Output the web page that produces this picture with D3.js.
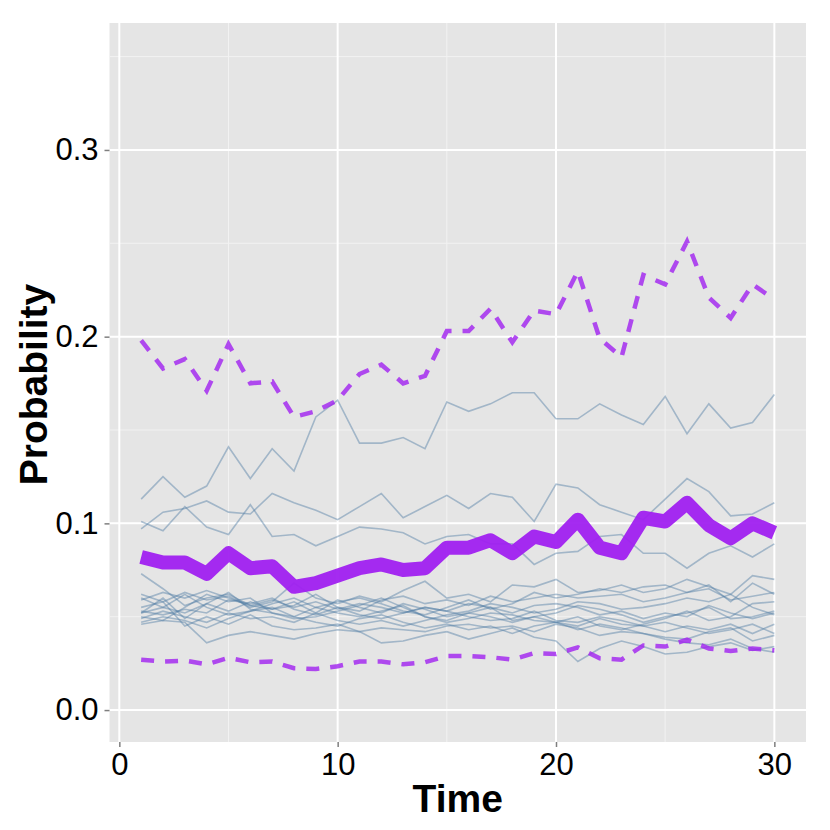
<!DOCTYPE html>
<html>
<head>
<meta charset="utf-8">
<script src="https://cdn.jsdelivr.net/npm/d3@7"></script>
<style>
    body { margin: 0; background: #ffffff; }
    text { font-family: "Liberation Sans", Arial, sans-serif; }
</style>
</head>
<body>
<div id="d3"></div>
<script>

const times = d3.range(1, 31);

// summary lines
const meanLine = [0.082, 0.079, 0.079, 0.073, 0.084, 0.076, 0.077, 0.066, 0.068, 0.072,
    0.076, 0.078, 0.075, 0.076, 0.087, 0.087, 0.091, 0.084, 0.093, 0.090,
    0.102, 0.087, 0.084, 0.103, 0.101, 0.111, 0.099, 0.092, 0.100, 0.095];
const upperLine = [0.198, 0.183, 0.188, 0.171, 0.196, 0.175, 0.176, 0.157, 0.160, 0.166,
    0.180, 0.185, 0.175, 0.179, 0.203, 0.203, 0.215, 0.197, 0.214, 0.212,
    0.235, 0.199, 0.189, 0.233, 0.228, 0.251, 0.221, 0.210, 0.228, 0.220];
const lowerLine = [0.027, 0.026, 0.0265, 0.0245, 0.028, 0.0256, 0.026, 0.0224, 0.022, 0.0235,
    0.026, 0.026, 0.0245, 0.0256, 0.029, 0.029, 0.0283, 0.027, 0.0305, 0.030,
    0.0336, 0.0277, 0.027, 0.0346, 0.034, 0.0377, 0.033, 0.0316, 0.033, 0.032];

// individual runs
const runs = [
    [0.113, 0.125, 0.114, 0.120, 0.141, 0.124, 0.140, 0.128, 0.157, 0.166,
     0.143, 0.143, 0.146, 0.140, 0.165, 0.160, 0.164, 0.170, 0.170, 0.156,
     0.156, 0.164, 0.158, 0.153, 0.168, 0.148, 0.164, 0.151, 0.154, 0.169],
    [0.097, 0.106, 0.108, 0.112, 0.106, 0.105, 0.116, 0.111, 0.107, 0.102,
     0.109, 0.116, 0.103, 0.109, 0.115, 0.108, 0.116, 0.114, 0.101, 0.121,
     0.119, 0.110, 0.106, 0.102, 0.113, 0.124, 0.117, 0.104, 0.105, 0.111],
    [0.101, 0.096, 0.109, 0.098, 0.094, 0.110, 0.093, 0.094, 0.088, 0.093,
     0.098, 0.097, 0.095, 0.089, 0.093, 0.094, 0.089, 0.089, 0.078, 0.084,
     0.085, 0.093, 0.094, 0.084, 0.084, 0.076, 0.084, 0.088, 0.082, 0.089],
    [0.073, 0.065, 0.056, 0.060, 0.062, 0.056, 0.054, 0.058, 0.052, 0.059,
     0.055, 0.052, 0.057, 0.054, 0.050, 0.052, 0.055, 0.048, 0.050, 0.047,
     0.045, 0.049, 0.046, 0.045, 0.042, 0.045, 0.043, 0.046, 0.041, 0.046],
    [0.062, 0.058, 0.063, 0.059, 0.061, 0.055, 0.058, 0.068, 0.060, 0.057,
     0.061, 0.058, 0.064, 0.069, 0.060, 0.062, 0.058, 0.067, 0.066, 0.070,
     0.063, 0.064, 0.067, 0.063, 0.065, 0.070, 0.066, 0.062, 0.072, 0.070],
    [0.060, 0.055, 0.052, 0.057, 0.053, 0.058, 0.054, 0.056, 0.062, 0.055,
     0.053, 0.059, 0.061, 0.057, 0.059, 0.056, 0.061, 0.058, 0.060, 0.062,
     0.060, 0.061, 0.062, 0.058, 0.060, 0.063, 0.065, 0.059, 0.061, 0.063],
    [0.059, 0.063, 0.060, 0.064, 0.060, 0.056, 0.059, 0.055, 0.058, 0.054,
     0.057, 0.055, 0.052, 0.055, 0.053, 0.057, 0.055, 0.052, 0.056, 0.057,
     0.055, 0.051, 0.053, 0.049, 0.052, 0.050, 0.056, 0.052, 0.049, 0.052],
    [0.052, 0.060, 0.049, 0.057, 0.063, 0.054, 0.052, 0.050, 0.055, 0.058,
     0.060, 0.057, 0.053, 0.051, 0.055, 0.059, 0.054, 0.057, 0.063, 0.060,
     0.062, 0.065, 0.063, 0.066, 0.067, 0.063, 0.067, 0.058, 0.068, 0.062],
    [0.052, 0.055, 0.062, 0.055, 0.051, 0.053, 0.057, 0.060, 0.055, 0.052,
     0.050, 0.053, 0.056, 0.050, 0.048, 0.052, 0.050, 0.047, 0.050, 0.052,
     0.056, 0.054, 0.051, 0.047, 0.050, 0.052, 0.055, 0.049, 0.050, 0.053],
    [0.050, 0.048, 0.055, 0.062, 0.058, 0.060, 0.052, 0.049, 0.050, 0.053,
     0.056, 0.060, 0.055, 0.050, 0.047, 0.049, 0.052, 0.051, 0.048, 0.047,
     0.050, 0.045, 0.043, 0.046, 0.049, 0.053, 0.048, 0.050, 0.057, 0.058],
    [0.047, 0.050, 0.048, 0.044, 0.049, 0.053, 0.055, 0.050, 0.047, 0.045,
     0.049, 0.051, 0.047, 0.044, 0.046, 0.043, 0.045, 0.041, 0.045, 0.047,
     0.043, 0.046, 0.044, 0.041, 0.039, 0.038, 0.042, 0.044, 0.037, 0.040],
    [0.046, 0.048, 0.047, 0.036, 0.040, 0.042, 0.040, 0.038, 0.041, 0.043,
     0.042, 0.036, 0.037, 0.040, 0.042, 0.038, 0.041, 0.044, 0.039, 0.037,
     0.026, 0.033, 0.037, 0.034, 0.030, 0.031, 0.034, 0.036, 0.032, 0.034],
    [0.055, 0.058, 0.045, 0.050, 0.046, 0.051, 0.045, 0.043, 0.044, 0.046,
     0.042, 0.044, 0.043, 0.042, 0.045, 0.046, 0.044, 0.045, 0.042, 0.046,
     0.044, 0.040, 0.042, 0.041, 0.038, 0.036, 0.035, 0.038, 0.033, 0.031],
    [0.053, 0.051, 0.054, 0.052, 0.059, 0.057, 0.060, 0.054, 0.051, 0.055,
     0.051, 0.049, 0.052, 0.055, 0.053, 0.050, 0.048, 0.049, 0.053, 0.048,
     0.047, 0.050, 0.048, 0.045, 0.047, 0.044, 0.041, 0.043, 0.046, 0.041],
    [0.049, 0.053, 0.050, 0.047, 0.052, 0.049, 0.050, 0.047, 0.052, 0.048,
     0.046, 0.048, 0.045, 0.048, 0.051, 0.053, 0.057, 0.055, 0.052, 0.054,
     0.058, 0.057, 0.054, 0.055, 0.057, 0.060, 0.058, 0.062, 0.055, 0.051]
];

const xTicks = [0, 10, 20, 30];
const xMinor = [5, 15, 25];
const yTicks = [0, 0.1, 0.2, 0.3];
const yMinor = [0.05, 0.15, 0.25, 0.35];

function drawSVG() {
    const width = 830, height = 830;
    const panel = { left: 109.5, right: 806, top: 23, bottom: 742 };

    const svg = d3
        .select("#d3")
        .append("svg")
        .attr("width", width)
        .attr("height", height);

    const x = d3.scaleLinear().domain([-0.45, 31.45]).range([panel.left, panel.right]);
    const y = d3.scaleLinear().domain([-0.0171, 0.368]).range([panel.bottom, panel.top]);

    svg.append("rect")
        .attr("x", panel.left)
        .attr("y", panel.top)
        .attr("width", panel.right - panel.left)
        .attr("height", panel.bottom - panel.top)
        .style("fill", "#e5e5e5");

    // minor grid
    svg.selectAll(".xminor").data(xMinor).enter().append("line")
        .attr("x1", d => x(d)).attr("x2", d => x(d))
        .attr("y1", panel.top).attr("y2", panel.bottom)
        .style("stroke", "#f2f2f2").style("stroke-width", 1);
    svg.selectAll(".yminor").data(yMinor).enter().append("line")
        .attr("y1", d => y(d)).attr("y2", d => y(d))
        .attr("x1", panel.left).attr("x2", panel.right)
        .style("stroke", "#f2f2f2").style("stroke-width", 1);

    // major grid
    svg.selectAll(".xmajor").data(xTicks).enter().append("line")
        .attr("x1", d => x(d)).attr("x2", d => x(d))
        .attr("y1", panel.top).attr("y2", panel.bottom)
        .style("stroke", "#ffffff").style("stroke-width", 2);
    svg.selectAll(".ymajor").data(yTicks).enter().append("line")
        .attr("y1", d => y(d)).attr("y2", d => y(d))
        .attr("x1", panel.left).attr("x2", panel.right)
        .style("stroke", "#ffffff").style("stroke-width", 2);

    const line = d3.line()
        .x((d, i) => x(times[i]))
        .y(d => y(d));

    svg.append("g").selectAll("path").data(runs).enter().append("path")
        .attr("d", line)
        .style("fill", "none")
        .style("stroke", "#4f7da3")
        .style("stroke-opacity", 0.45)
        .style("stroke-width", 1.6);

    [upperLine, lowerLine].forEach(vals => {
        svg.append("path")
            .attr("d", line(vals))
            .style("fill", "none")
            .style("stroke", "#a020f0")
            .style("stroke-opacity", 0.8)
            .style("stroke-width", 4.5)
            .style("stroke-dasharray", "13,11");
    });

    svg.append("path")
        .attr("d", line(meanLine))
        .style("fill", "none")
        .style("stroke", "#a020f0")
        .style("stroke-opacity", 0.95)
        .style("stroke-width", 14)
        .style("stroke-linejoin", "round");

    // axes
    const xAxis = svg.append("g")
        .attr("transform", `translate(0,${panel.bottom})`)
        .call(d3.axisBottom(x).tickValues(xTicks).tickSize(5).tickPadding(6).tickFormat(d3.format("d")));
    const yAxis = svg.append("g")
        .attr("transform", `translate(${panel.left},0)`)
        .call(d3.axisLeft(y).tickValues(yTicks).tickSize(5).tickPadding(6).tickFormat(d3.format(".1f")));

    [xAxis, yAxis].forEach(g => {
        g.select(".domain").remove();
        g.selectAll(".tick line").style("stroke", "#7f7f7f").style("stroke-width", 1.5);
        g.selectAll(".tick text")
            .style("fill", "#000000")
            .style("font-size", "31px")
            .style("font-family", "'Liberation Sans', Arial, sans-serif");
    });

    svg.append("text")
        .attr("x", (panel.left + panel.right) / 2)
        .attr("y", 812)
        .attr("text-anchor", "middle")
        .style("font-size", "39px")
        .style("font-weight", "bold")
        .text("Time");

    svg.append("text")
        .attr("transform", `translate(47,${(panel.top + panel.bottom) / 2 + 2}) rotate(-90)`)
        .attr("text-anchor", "middle")
        .style("font-size", "39px")
        .style("font-weight", "bold")
        .text("Probability");
}

drawSVG();
</script>
</body>
</html>
